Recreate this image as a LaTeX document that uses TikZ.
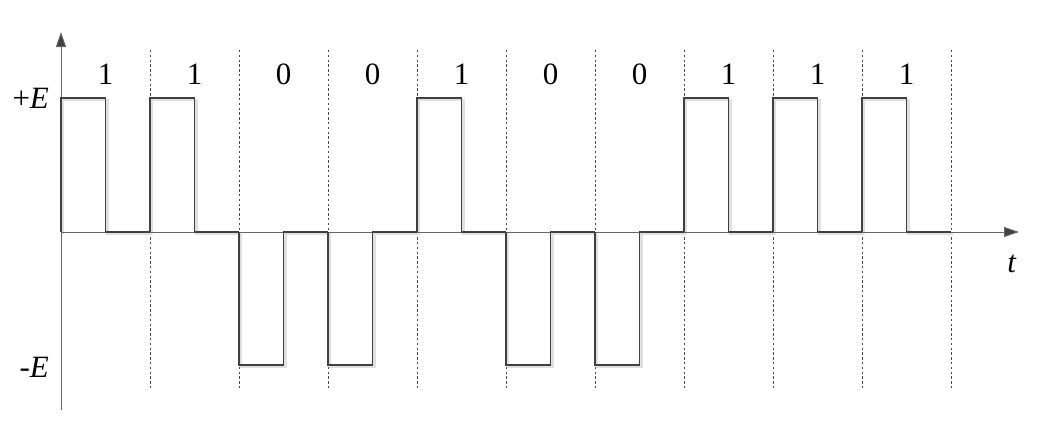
\documentclass[tikz,border=0pt]{standalone}
\usepackage{fontspec}
\setmainfont{Liberation Serif}
\usetikzlibrary{arrows.meta}

\begin{document}
\begin{tikzpicture}[x=0.5pt,y=-0.5pt,
    axis/.style={draw=black!60, line width=0.5pt, -{Triangle[length=7.5pt,width=5pt,fill=black!75]}},
    slot line/.style={draw=black!70, line width=0.4pt, dash pattern=on 1.2pt off 1.2pt},
    signal/.style={draw=black!75, line width=0.9pt},
    signal shadow/.style={draw=black!12, line width=1.2pt},
    bit label/.style={font=\fontsize{15.5}{17}\selectfont}]

    \useasboundingbox (0,0) rectangle (1056,439);

    \coordinate (origin)   at (61,232);
    \coordinate (y bottom) at (61,410);
    \coordinate (y top)    at (61,32);
    \coordinate (x end)    at (1019,232);

    % slot boundaries
    \foreach \x in {1,...,10}
    \draw[slot line] (61+89*\x,50) -- (61+89*\x,388);

    % shadow, then signal
    \foreach \b [count=\x from 0] in {1,1,0,0,1,0,0,1,1,1} {
      \pgfmathsetmacro{\lev}{\b==1 ? 98 : 365}
      \draw[signal shadow] (63+89*\x,234) -- (63+89*\x,\lev+2) -- (63+89*\x+44.5,\lev+2)
        -- (63+89*\x+44.5,234) -- (63+89*\x+89,234);
    }
    \draw[axis] (y bottom) -- (y top);
    \draw[axis] (origin) -- (x end);
    \foreach \b [count=\x from 0] in {1,1,0,0,1,0,0,1,1,1} {
      \pgfmathsetmacro{\lev}{\b==1 ? 98 : 365}
      \draw[signal] (61+89*\x,232) -- (61+89*\x,\lev) -- (61+89*\x+44.5,\lev)
        -- (61+89*\x+44.5,232) -- (61+89*\x+89,232);
      \node[bit label] (bit \x) at (61+89*\x+44.5,74) {\b};
    }

    \node[bit label, anchor=east] (plus E)  at (56,98)   {+\textit{E}};
    \node[bit label, anchor=east] (minus E) at (56,367)  {-\textit{E}};
    \node[bit label]              (t)       at (1012,264) {\textit{t}};
\end{tikzpicture}
\end{document}
